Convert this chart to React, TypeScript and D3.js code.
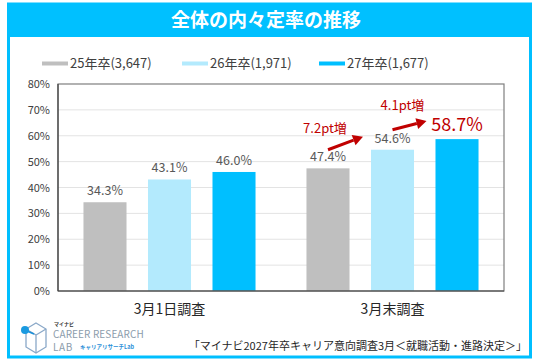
import React from "react";
import { scaleBand, scaleLinear } from "d3";

// data
const categories = ["3月1日調査", "3月末調査"];
const seriesNames = ["25年卒(3,647)", "26年卒(1,971)", "27年卒(1,677)"];
const seriesColors = ["#bfbfbf", "#b3eafd", "#00bfff"];
const values25 = [34.3, 47.4];
const values26 = [43.1, 54.6];
const values27 = [46.0, 58.7];
const yTicks = [0, 10, 20, 30, 40, 50, 60, 70, 80];
const increaseLabels = ["7.2pt増", "4.1pt増"];

const W = 536;
const H = 361;
const FONT = "'Noto Sans CJK JP', 'Noto Sans', sans-serif";
const RED = "#c00000";

function Arrow({ x1, y1, x2, y2 }: { x1: number; y1: number; x2: number; y2: number }) {
  // line with a filled head
  const ang = Math.atan2(y2 - y1, x2 - x1);
  const hl = 10;
  const hw = 5.5;
  const bx = x2 - hl * Math.cos(ang);
  const by = y2 - hl * Math.sin(ang);
  const px = -Math.sin(ang) * hw;
  const py = Math.cos(ang) * hw;
  return (
    <g>
      <line x1={x1} y1={y1} x2={bx} y2={by} stroke={RED} strokeWidth={3} />
      <polygon points={`${x2},${y2} ${bx + px},${by + py} ${bx - px},${by - py}`} fill={RED} />
    </g>
  );
}

export default function App() {
  const left = 58;
  const right = 504;
  const top = 84;
  const bottom = 291;

  const x0 = scaleBand<string>().domain(categories).range([left, right]).padding(0);
  const x1 = scaleBand<string>()
    .domain(seriesNames)
    .range([0, x0.bandwidth()])
    .paddingInner(0.333)
    .paddingOuter(0.395);
  const y = scaleLinear().domain([0, 80]).range([bottom, top]);

  const allSeries = [values25, values26, values27];
  const barX = (ci: number, si: number) => (x0(categories[ci]) as number) + (x1(seriesNames[si]) as number);
  const bw = x1.bandwidth();

  // annotation anchors (second category)
  const g = 1;
  const a1 = {
    x1: barX(g, 0) + bw / 2,
    y1: y(values26[g]),
    x2: barX(g, 1) - 8,
    y2: y(values26[g]) - 13,
  };
  const a2 = {
    x1: barX(g, 1) + bw / 2,
    y1: y(values26[g]) - 20,
    x2: barX(g, 2) - 9,
    y2: y(values27[g]) - 18,
  };

  const legendX = [42, 182, 319];

  return (
    <svg
      width={W}
      height={H}
      style={{ position: "absolute", left: 0, top: 0, background: "#fff" }}
      fontFamily={FONT}
    >
      {/* frame */}
      <rect x={8.5} y={4} width={522} height={353} fill="#fff" stroke="#00bfff" strokeWidth={3} />
      <rect x={7} y={3} width={525} height={34} fill="#00c0ff" />
      <text x={266} y={27} textAnchor="middle" fill="#fff" fontSize={19} fontWeight={700}>
        全体の内々定率の推移
      </text>

      {/* legend */}
      {seriesNames.map((s, i) => (
        <g key={s}>
          <rect x={legendX[i]} y={61.5} width={26} height={4} fill={seriesColors[i]} />
          <text x={legendX[i] + 28} y={68} fontSize={13} fill="#404040">
            {s}
          </text>
        </g>
      ))}

      {/* grid */}
      {yTicks.map((t) => (
        <g key={t}>
          {t > 0 && t < 80 && (
            <line x1={left} x2={right} y1={y(t)} y2={y(t)} stroke="#e3e3e3" strokeWidth={1} />
          )}
          <text x={50} y={y(t) + 4} textAnchor="end" fontSize={11} fill="#404040">
            {t}%
          </text>
        </g>
      ))}

      {/* bars */}
      {allSeries.map((vals, si) =>
        vals.map((v, ci) => (
          <rect
            key={`${si}-${ci}`}
            x={barX(ci, si)}
            y={y(v)}
            width={bw}
            height={bottom - y(v)}
            fill={seriesColors[si]}
          />
        ))
      )}

      {/* value labels */}
      {allSeries.map((vals, si) =>
        vals.map((v, ci) => {
          const big = si === 2 && ci === 1;
          return (
            <text
              key={`l${si}-${ci}`}
              x={barX(ci, si) + bw / 2}
              y={y(v) - (big ? 8 : 7)}
              textAnchor="middle"
              fontSize={big ? 18 : 12.5}
              fill={big ? RED : "#595959"}
            >
              {v.toFixed(1)}%
            </text>
          );
        })
      )}

      {/* plot border */}
      <rect x={left} y={top} width={right - left} height={bottom - top} fill="none" stroke="#7f7f7f" strokeWidth={1.2} />
      <line x1={left} x2={left} y1={top} y2={bottom} stroke="#404040" strokeWidth={1.2} />
      <line x1={left} x2={right} y1={bottom} y2={bottom} stroke="#404040" strokeWidth={1.2} />

      {/* category labels */}
      {categories.map((c) => (
        <text
          key={c}
          x={(x0(c) as number) + x0.bandwidth() / 2}
          y={314}
          textAnchor="middle"
          fontSize={14}
          fill="#262626"
        >
          {c}
        </text>
      ))}

      {/* annotations */}
      <Arrow {...a1} />
      <Arrow {...a2} />
      <text x={a1.x1 - 3} y={a1.y1 - 17} textAnchor="middle" fontSize={13} fill={RED}>
        {increaseLabels[0]}
      </text>
      <text x={a2.x1 + 10} y={a2.y1 - 20} textAnchor="middle" fontSize={13} fill={RED}>
        {increaseLabels[1]}
      </text>

      {/* source */}
      <text x={527} y={350} textAnchor="end" fontSize={11} fill="#262626">
        「マイナビ2027年卒キャリア意向調査3月＜就職活動・進路決定＞」
      </text>

      {/* logo */}
      <g>
        <path d="M36 323 L46 329 L46 347 L36 353 L26 347 L26 329 Z" fill="none" stroke="#8aa8c8" strokeWidth={1.3} />
        <path d="M26 329 L36 335 L46 329 M36 335 L36 353" fill="none" stroke="#8aa8c8" strokeWidth={1.3} />
        <line x1={27} y1={331} x2={34} y2={334} stroke="#1a8fd8" strokeWidth={1.5} />
        <circle cx={25} cy={330} r={4} fill="#1a9ae0" />
        <text x={54} y={325.5} fontSize={5} fontWeight={700} fill="#333">
          マイナビ
        </text>
        <text x={53} y={337.5} fontSize={10} fill="#8c9cab" letterSpacing={0.1}>
          CAREER RESEARCH
        </text>
        <text x={53} y={351} fontSize={10} fill="#8c9cab" letterSpacing={0.6}>
          LAB
        </text>
        <text x={80} y={349} fontSize={5.5} fontWeight={700} fill="#2a8fd8">
          キャリアリサーチLab
        </text>
      </g>
    </svg>
  );
}
